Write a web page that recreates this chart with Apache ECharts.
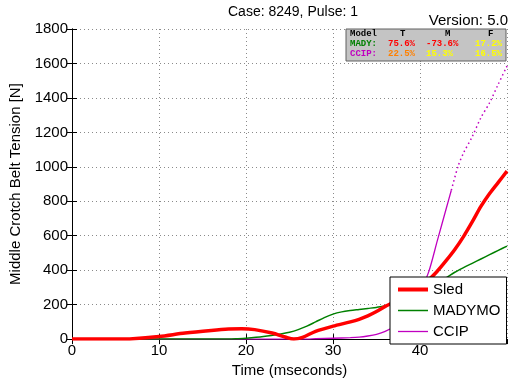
<!DOCTYPE html>
<html><head><meta charset="utf-8">
<script src="https://cdn.jsdelivr.net/npm/echarts@6/dist/echarts.min.js"></script>
<style>html,body{margin:0;padding:0;background:#fff}#c{width:516px;height:383px}</style>
</head><body><div id="c"></div>
<script>
const xTicks = [0, 10, 20, 30, 40];
const sledT = [0,5,7,10,13,16,18,19.5,21,23,24.5,25.5,26.5,28,30,32,33,34,35,36,37,38,39,40,41,42,43,44,45,46,47,48,49,50];
const sledV = [0,0,2,15,35,50,58,60,55,35,12,0,10,45,75,100,115,135,160,190,215,245,280,320,345,395,455,520,595,680,770,845,910,975];
const madyT = [0,18,19,20,22,24,25,26,27,28,29,30,31,32,33,34,35,36,37,38,39,40,41,42,43,44,45,46,47,48,49,50];
const madyV = [0,0,2,5,15,30,40,55,75,100,125,145,158,166,172,178,184,192,205,220,240,265,295,325,355,388,415,440,465,490,515,540];
const ccipT = [0,27,28,30,32,33,34,35,36,37,38,39,40,41,42,43,43.6];
const ccipV = [0,0,2,5,8,11,18,28,45,72,120,190,270,390,573,755,864];
const ccipDotT = [43.6,44.4,45,46,47,48,49,50];
const ccipDotV = [864,1007,1080,1175,1285,1372,1480,1585];
const tableHeader = ['Model', 'T', 'M', 'F'];
const tableRows = [
  {name: 'MADY:', vals: ['75.6%', '-73.6%', '17.2%']},
  {name: 'CCIP:', vals: ['22.5%', '15.3%', '16.5%']}
];

const pairs = (t, v) => t.map((x, i) => [x, v[i]]);
const chart = echarts.init(document.getElementById('c'));
const F = 'Liberation Sans, Arial, sans-serif';
const M = 'Liberation Mono, DejaVu Sans Mono, monospace';
const axisLine = {show: true, lineStyle: {color: '#000', width: 1}};
const tick = {show: true, inside: true, length: 5, lineStyle: {color: '#000'}};
const split = {show: true, lineStyle: {type: [1, 3], color: '#8a8a8a', width: 1}};

const colX = [350, 400, 445, 488];
const valX = [388, 426, 475];
const rowY = [43.5, 53.5];
const rowColors = ['#008000', '#c000c0'];
const valColors = [['#ff0000', '#ff0000', '#ffff00'], ['#ff8000', '#ffff00', '#ffff00']];
const g = [
  {type: 'rect', shape: {x: 346, y: 29, width: 160, height: 32}, style: {fill: '#c4c4c4', stroke: '#606060', lineWidth: 1}, z: 10},
];
tableHeader.forEach((h, i) => g.push({type: 'text', x: colX[i], y: 33.5, z: 11,
  style: {text: h, fill: '#000', font: 'bold 9px ' + M, verticalAlign: 'middle'}}));
tableRows.forEach((r, j) => {
  g.push({type: 'text', x: 350, y: rowY[j], z: 11, style: {text: r.name, fill: rowColors[j], font: 'bold 9px ' + M, verticalAlign: 'middle'}});
  r.vals.forEach((v, i) => g.push({type: 'text', x: valX[i], y: rowY[j], z: 11,
    style: {text: v, fill: valColors[j][i], font: 'bold 9px ' + M, verticalAlign: 'middle'}}));
});
g.push({type: 'text', x: 508, y: 21, z: 11, style: {text: 'Version: 5.0', fill: '#000', font: '15px ' + F, align: 'right', verticalAlign: 'middle'}});

chart.setOption({
  animation: false,
  backgroundColor: '#fff',
  title: {text: 'Case: 8249, Pulse: 1', left: 288, top: 0, textAlign: 'center',
    textStyle: {fontFamily: F, fontSize: 14, fontWeight: 'normal', color: '#000'}},
  grid: {left: 72, right: 9, top: 29, bottom: 41},
  legend: {
    orient: 'vertical', left: 390, top: 277, padding: [5, 6, 5, 6], itemGap: 6,
    itemWidth: 30, itemHeight: 14, backgroundColor: '#fff', borderColor: '#000', borderWidth: 1,
    itemStyle: {opacity: 0},
    textStyle: {fontFamily: F, fontSize: 15, color: '#000'},
    data: [
      {name: 'Sled', lineStyle: {width: 4}},
      {name: 'MADYMO', lineStyle: {width: 1.5}},
      {name: 'CCIP', lineStyle: {width: 1.3}}
    ], z: 20
  },
  graphic: g,
  xAxis: [
    {type: 'value', min: 0, max: 50, interval: 10, name: 'Time (mseconds)', nameLocation: 'middle', nameGap: 20,
     nameTextStyle: {fontFamily: F, fontSize: 15, color: '#000'},
     axisLine, axisTick: tick, splitLine: split,
     axisLabel: {fontFamily: F, fontSize: 15, color: '#000', margin: 4, showMaxLabel: false, formatter: v => String(v)}},
    {type: 'value', position: 'top', min: 0, max: 50, interval: 10, axisLine, axisTick: tick,
     splitLine: {show: false}, axisLabel: {show: false}}
  ],
  yAxis: [
    {type: 'value', min: 0, max: 1800, interval: 200, name: 'Middle Crotch Belt Tension [N]', nameLocation: 'middle', nameGap: 42,
     nameTextStyle: {fontFamily: F, fontSize: 15, color: '#000'},
     axisLine, axisTick: tick, splitLine: split,
     axisLabel: {fontFamily: F, fontSize: 15, color: '#000', margin: 4, formatter: v => String(v)}},
    {type: 'value', position: 'right', min: 0, max: 1800, interval: 200, axisLine, axisTick: tick,
     splitLine: {show: false}, axisLabel: {show: false}}
  ],
  series: [
    {name: 'Sled', type: 'line', data: pairs(sledT, sledV), symbol: 'none', smooth: 0.3,
     lineStyle: {color: '#ff0000', width: 3.5}, itemStyle: {color: '#ff0000'}, z: 5},
    {name: 'MADYMO', type: 'line', data: pairs(madyT, madyV), symbol: 'none', smooth: 0.3,
     lineStyle: {color: '#008000', width: 1.5}, itemStyle: {color: '#008000'}, z: 4},
    {name: 'CCIP', type: 'line', data: pairs(ccipT, ccipV), symbol: 'none', smooth: 0.3,
     lineStyle: {color: '#c000c0', width: 1.3}, itemStyle: {color: '#c000c0'}, z: 3},
    {name: 'CCIP', type: 'line', data: pairs(ccipDotT, ccipDotV), symbol: 'none', smooth: 0.3,
     lineStyle: {color: '#c000c0', width: 1.5, type: [1.5, 3]}, itemStyle: {color: '#c000c0'}, z: 3}
  ]
});
</script></body></html>
